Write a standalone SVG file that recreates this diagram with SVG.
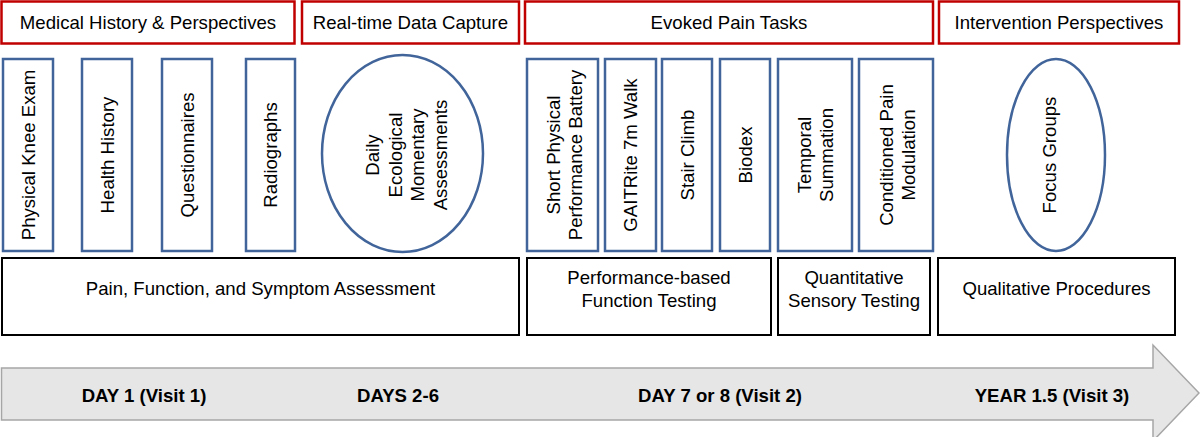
<svg xmlns="http://www.w3.org/2000/svg" width="1200" height="437" viewBox="0 0 1200 437">
<style>
text{font-family:"Liberation Sans",Arial,sans-serif;font-size:18.6px;fill:#000}
.hdr{fill:#fff;stroke:#C00000;stroke-width:2.5}
.col{fill:#fff;stroke:#41659A;stroke-width:2.5}
.cat{fill:#fff;stroke:#000;stroke-width:2}
.c{text-anchor:middle;dominant-baseline:central}
.b{font-weight:bold}
</style>
<rect width="1200" height="437" fill="#fff"/>
<g id="headers">
<g id="hdr-medical"><rect class="hdr" x="1.5" y="1.5" width="293" height="42"/><text class="c" x="148" y="22">Medical History &amp; Perspectives</text></g>
<g id="hdr-realtime"><rect class="hdr" x="302" y="1.5" width="217" height="42"/><text class="c" x="410.5" y="22">Real-time Data Capture</text></g>
<g id="hdr-evoked"><rect class="hdr" x="525" y="1.5" width="408" height="42"/><text class="c" x="729" y="22">Evoked Pain Tasks</text></g>
<g id="hdr-intervention"><rect class="hdr" x="939" y="1.5" width="240" height="42"/><text class="c" x="1059" y="22">Intervention Perspectives</text></g>
</g>
<g id="items">
<g id="physical-knee-exam"><rect class="col" x="3" y="59" width="50" height="192"/><text class="c" transform="translate(28,155) rotate(-90)">Physical Knee Exam</text></g>
<g id="health-history"><rect class="col" x="82" y="59" width="50" height="192"/><text class="c" transform="translate(107,155) rotate(-90)">Health History</text></g>
<g id="questionnaires"><rect class="col" x="162" y="59" width="50" height="192"/><text class="c" transform="translate(187,155) rotate(-90)">Questionnaires</text></g>
<g id="radiographs"><rect class="col" x="246" y="59" width="49" height="192"/><text class="c" transform="translate(270.5,155) rotate(-90)">Radiographs</text></g>
<g id="ema"><ellipse class="col" cx="402.5" cy="153.5" rx="80.5" ry="98.5"/><text class="c" transform="translate(406,155) rotate(-90)"><tspan x="0" y="-33.75">Daily</tspan><tspan x="0" y="-11.25">Ecological</tspan><tspan x="0" y="11.25">Momentary</tspan><tspan x="0" y="33.75">Assessments</tspan></text></g>
<g id="sppb"><rect class="col" x="527" y="59" width="71" height="192"/><text class="c" transform="translate(563.5,155) rotate(-90)"><tspan x="0" y="-11">Short Physical</tspan><tspan x="0" y="11">Performance Battery</tspan></text></g>
<g id="gaitrite"><rect class="col" x="605" y="59" width="51" height="192"/><text class="c" transform="translate(630.5,155) rotate(-90)">GAITRite 7m Walk</text></g>
<g id="stair-climb"><rect class="col" x="662" y="59" width="50" height="192"/><text class="c" transform="translate(687,155) rotate(-90)">Stair Climb</text></g>
<g id="biodex"><rect class="col" x="720" y="59" width="50" height="192"/><text class="c" transform="translate(745,155) rotate(-90)">Biodex</text></g>
<g id="temporal-summation"><rect class="col" x="778" y="59" width="74" height="192"/><text class="c" transform="translate(814.5,155) rotate(-90)"><tspan x="0" y="-11">Temporal</tspan><tspan x="0" y="11">Summation</tspan></text></g>
<g id="cpm"><rect class="col" x="859" y="59" width="74" height="192"/><text class="c" transform="translate(897,155) rotate(-90)"><tspan x="0" y="-11">Conditioned Pain</tspan><tspan x="0" y="11">Modulation</tspan></text></g>
<g id="focus-groups"><ellipse class="col" cx="1056" cy="155" rx="49" ry="96"/><text class="c" transform="translate(1049,155) rotate(-90)">Focus Groups</text></g>
</g>
<g id="categories">
<g id="cat-pain"><rect class="cat" x="2" y="258" width="517" height="77"/><text class="c" x="260.5" y="288">Pain, Function, and Symptom Assessment</text></g>
<g id="cat-performance"><rect class="cat" x="527" y="258" width="244" height="77"/><text class="c" x="649" y="277">Performance-based</text><text class="c" x="649" y="300">Function Testing</text></g>
<g id="cat-qst"><rect class="cat" x="778" y="258" width="152" height="77"/><text class="c" x="854" y="277">Quantitative</text><text class="c" x="854" y="300">Sensory Testing</text></g>
<g id="cat-qual"><rect class="cat" x="938" y="258" width="237" height="77"/><text class="c" x="1056.5" y="288">Qualitative Procedures</text></g>
</g>
<g id="connectors">
<g id="timeline">
<path d="M1.5,368 L1153,368 L1153,345 L1199,393 L1153,441 L1153,420 L1.5,420 Z" fill="#E7E6E6" stroke="#A6A6A6" stroke-width="1.5"/>
<text class="c b" x="144" y="395">DAY 1 (Visit 1)</text>
<text class="c b" x="398" y="395">DAYS 2-6</text>
<text class="c b" x="720" y="395">DAY 7 or 8 (Visit 2)</text>
<text class="c b" x="1052" y="395">YEAR 1.5 (Visit 3)</text>
</g>
</g>
</svg>
